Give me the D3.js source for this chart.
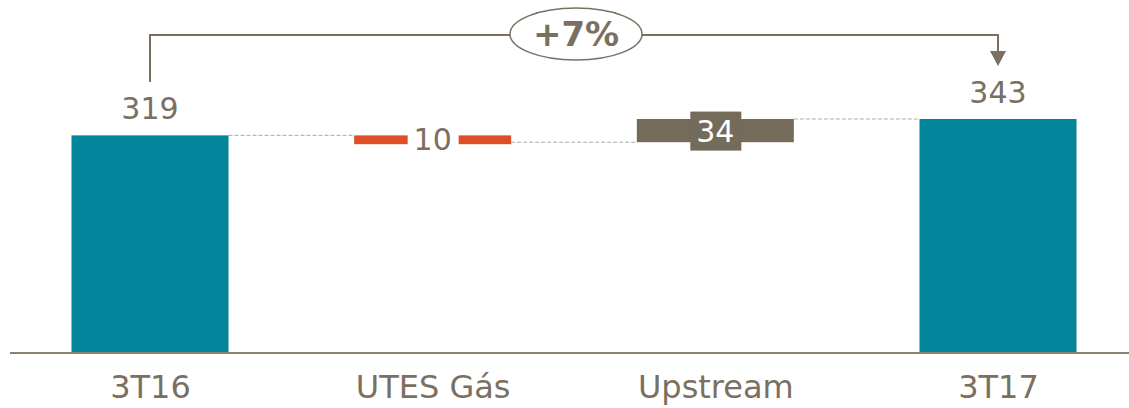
<!DOCTYPE html>
<html>
<head>
<meta charset="utf-8">
<script src="https://cdn.jsdelivr.net/npm/d3@7"></script>
<style>
  body { margin: 0; background: #fff; }
  svg text { font-family: Verdana, "DejaVu Sans", sans-serif; }
</style>
</head>
<body>
<svg></svg>
<script>
let categories = ['3T16', 'UTES Gás', 'Upstream', '3T17']
let values = [319, -10, 34, 343]
let kinds = ['total', 'delta', 'delta', 'total']
let growthLabel = '+7%'

let width = 1129
let height = 408
let baseY = 353
let barW = 157

let teal = '#02849a'
let orange = '#e04e25'
let taupe = '#756b5b'
let textCol = '#7a7062'

let svg = d3.select('svg').attr('width', width).attr('height', height)

let xScale = d3.scalePoint().domain(categories).range([150, 998])
let yScale = d3.scaleLinear().domain([0, 343]).range([baseY, 119])

// build waterfall steps
let running = 0
let steps = categories.map((c, i) => {
    let v = values[i]
    let s
    if (kinds[i] == 'total') {
        s = {cat: c, v: v, y0: 0, y1: v, kind: 'total'}
        running = v
    } else {
        s = {cat: c, v: v, y0: running, y1: running + v, kind: 'delta'}
        running = running + v
    }
    return s
})

// dashed connectors
for (let i = 0; i < steps.length - 1; i++) {
    let lvl = steps[i].y1
    svg.append('line')
    .attr('x1', xScale(steps[i].cat) + barW / 2)
    .attr('x2', xScale(steps[i + 1].cat) - barW / 2)
    .attr('y1', yScale(lvl))
    .attr('y2', yScale(lvl))
    .attr('stroke', '#b0aaa2')
    .attr('stroke-width', 1)
    .attr('stroke-dasharray', '4,2')
}

// bars
svg.selectAll('rect.bar')
.data(steps)
.enter()
.append('rect')
.attr('class', 'bar')
.attr('x', (d) => xScale(d.cat) - barW / 2)
.attr('width', barW)
.attr('y', (d) => yScale(Math.max(d.y0, d.y1)))
.attr('height', (d) => Math.abs(yScale(d.y0) - yScale(d.y1)) + (d.v < 0 ? 2 : 0))
.attr('fill', (d) => {
    if (d.kind == 'total') return teal
    return d.v < 0 ? orange : taupe
})

// value labels
steps.forEach((d) => {
    let cx = xScale(d.cat)
    if (d.kind == 'total') {
        svg.append('text')
        .attr('x', cx)
        .attr('y', yScale(d.y1) - 16)
        .attr('text-anchor', 'middle')
        .attr('font-size', 30)
        .attr('fill', textCol)
        .text(d.v)
    } else {
        let mid = (yScale(d.y0) + yScale(d.y1)) / 2
        let neg = d.v < 0
        let g = svg.append('g')
        g.append('rect')
        .attr('x', cx - 25)
        .attr('width', 51)
        .attr('y', mid - 19)
        .attr('height', 39)
        .attr('fill', neg ? '#fff' : taupe)
        g.append('text')
        .attr('x', cx)
        .attr('y', mid + 11)
        .attr('text-anchor', 'middle')
        .attr('font-size', 30)
        .attr('fill', neg ? textCol : '#fff')
        .text(Math.abs(d.v))
    }
})

// baseline
svg.append('line')
.attr('x1', 10).attr('x2', width)
.attr('y1', baseY).attr('y2', baseY)
.attr('stroke', '#8a8070')
.attr('stroke-width', 2)

// category axis
let xAxis = d3.axisBottom(xScale).tickSize(0).tickPadding(22)
let ax = svg.append('g')
.attr('transform', 'translate(0,' + baseY + ')')
.call(xAxis)
ax.select('.domain').remove()
ax.selectAll('text')
.attr('font-size', 32)
.attr('font-family', 'Verdana, "DejaVu Sans", sans-serif')
.attr('fill', textCol)

// growth bracket
let lx = xScale(categories[0])
let rx = xScale(categories[3])
let topY = 35
svg.append('path')
.attr('d', 'M' + lx + ',82 V' + topY + ' H' + rx + ' V54')
.attr('fill', 'none')
.attr('stroke', textCol)
.attr('stroke-width', 2)
svg.append('path')
.attr('d', 'M' + (rx - 8) + ',51 L' + (rx + 8) + ',51 L' + rx + ',66 Z')
.attr('fill', textCol)

svg.append('ellipse')
.attr('cx', 576).attr('cy', 34)
.attr('rx', 66).attr('ry', 26)
.attr('fill', '#fff')
.attr('stroke', textCol)
.attr('stroke-width', 1.5)
svg.append('text')
.attr('x', 576).attr('y', 46)
.attr('text-anchor', 'middle')
.attr('font-size', 34)
.attr('font-weight', 'bold')
.attr('fill', textCol)
.text(growthLabel)
</script>
</body>
</html>
